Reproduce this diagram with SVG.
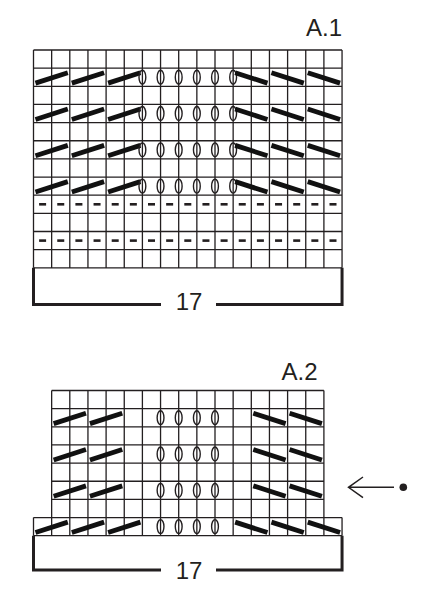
<svg xmlns="http://www.w3.org/2000/svg" xmlns:xlink="http://www.w3.org/1999/xlink" width="429" height="600" viewBox="0 0 429 600">
<style>
.grid{fill:none;stroke:#231f20;stroke-width:1.3}
.brk{fill:none;stroke:#231f20;stroke-width:3;stroke-linejoin:miter}
.bar{stroke:#111;stroke-width:4.8;stroke-linecap:butt}
.ov{fill:none;stroke:#231f20;stroke-width:1.4}
.dash{fill:#231f20}
.lbl{font-family:"Liberation Sans",Arial,sans-serif;font-size:24px;fill:#231f20}
.arr{fill:none;stroke:#231f20;stroke-width:1.5}
</style>
<defs>
<line id="barL" class="bar" x1="2" y1="15" x2="34.3" y2="4.6"/>
<line id="barR" class="bar" x1="2" y1="4.6" x2="34.3" y2="15"/>
<ellipse id="oval" class="ov" cx="0" cy="9.075" rx="3.4" ry="7"/>
<rect id="dash" class="dash" x="5.6" y="7.8" width="7" height="2.6"/>
</defs>
<rect width="429" height="600" fill="#fff"/>

<g id="chartA1">
<text class="lbl" x="306" y="36">A.1</text>
<path class="grid" d="M33.5 50V267.8M51.65 50V267.8M69.8 50V267.8M87.95 50V267.8M106.1 50V267.8M124.25 50V267.8M142.4 50V267.8M160.55 50V267.8M178.7 50V267.8M196.85 50V267.8M215 50V267.8M233.15 50V267.8M251.3 50V267.8M269.45 50V267.8M287.6 50V267.8M305.75 50V267.8M323.9 50V267.8M342.05 50V267.8
M33.5 50H342.05M33.5 68.15H342.05M33.5 86.3H342.05M33.5 104.45H342.05M33.5 122.6H342.05M33.5 140.75H342.05M33.5 158.9H342.05M33.5 177.05H342.05M33.5 195.2H342.05M33.5 213.35H342.05M33.5 231.5H342.05M33.5 249.65H342.05M33.5 267.8H342.05"/>
<g id="a1row2">
<use href="#barL" x="33.5" y="68.15"/><use href="#barL" x="69.8" y="68.15"/><use href="#barL" x="106.1" y="68.15"/>
<use href="#oval" x="142.4" y="68.15"/><use href="#oval" x="160.55" y="68.15"/><use href="#oval" x="178.7" y="68.15"/><use href="#oval" x="196.85" y="68.15"/><use href="#oval" x="215" y="68.15"/><use href="#oval" x="233.15" y="68.15"/>
<use href="#barR" x="233.15" y="68.15"/><use href="#barR" x="269.45" y="68.15"/><use href="#barR" x="305.75" y="68.15"/>
</g>
<use href="#a1row2" y="36.3"/>
<use href="#a1row2" y="72.6"/>
<use href="#a1row2" y="108.9"/>
<g id="a1dash">
<use href="#dash" x="33.5" y="195.2"/><use href="#dash" x="51.65" y="195.2"/><use href="#dash" x="69.8" y="195.2"/><use href="#dash" x="87.95" y="195.2"/><use href="#dash" x="106.1" y="195.2"/><use href="#dash" x="124.25" y="195.2"/><use href="#dash" x="142.4" y="195.2"/><use href="#dash" x="160.55" y="195.2"/><use href="#dash" x="178.7" y="195.2"/><use href="#dash" x="196.85" y="195.2"/><use href="#dash" x="215" y="195.2"/><use href="#dash" x="233.15" y="195.2"/><use href="#dash" x="251.3" y="195.2"/><use href="#dash" x="269.45" y="195.2"/><use href="#dash" x="287.6" y="195.2"/><use href="#dash" x="305.75" y="195.2"/><use href="#dash" x="323.9" y="195.2"/>
</g>
<use href="#a1dash" y="36.3"/>
<path class="brk" d="M33.5 267.8V304.5H161M216 304.5H342.05V267.8"/>
<text class="lbl" x="189" y="310" text-anchor="middle">17</text>
</g>

<g id="chartA2">
<text class="lbl" x="281.5" y="380">A.2</text>
<path class="grid" d="M51.65 390.5V517.55M69.8 390.5V517.55M87.95 390.5V517.55M106.1 390.5V517.55M124.25 390.5V517.55M142.4 390.5V517.55M160.55 390.5V517.55M178.7 390.5V517.55M196.85 390.5V517.55M215 390.5V517.55M233.15 390.5V517.55M251.3 390.5V517.55M269.45 390.5V517.55M287.6 390.5V517.55M305.75 390.5V517.55M323.9 390.5V517.55
M51.65 390.5H323.9M51.65 408.65H323.9M51.65 426.8H323.9M51.65 444.95H323.9M51.65 463.1H323.9M51.65 481.25H323.9M51.65 499.4H323.9
M33.5 517.55H342.05M33.5 535.7H342.05
M33.5 517.55V535.7M51.65 517.55V535.7M69.8 517.55V535.7M87.95 517.55V535.7M106.1 517.55V535.7M124.25 517.55V535.7M142.4 517.55V535.7M160.55 517.55V535.7M178.7 517.55V535.7M196.85 517.55V535.7M215 517.55V535.7M233.15 517.55V535.7M251.3 517.55V535.7M269.45 517.55V535.7M287.6 517.55V535.7M305.75 517.55V535.7M323.9 517.55V535.7M342.05 517.55V535.7"/>
<g id="a2row2">
<use href="#barL" x="51.65" y="408.65"/><use href="#barL" x="87.95" y="408.65"/>
<use href="#oval" x="160.55" y="408.65"/><use href="#oval" x="178.7" y="408.65"/><use href="#oval" x="196.85" y="408.65"/><use href="#oval" x="215" y="408.65"/>
<use href="#barR" x="251.3" y="408.65"/><use href="#barR" x="287.6" y="408.65"/>
</g>
<use href="#a2row2" y="36.3"/>
<use href="#a2row2" y="72.6"/>
<g id="a2wide">
<use href="#barL" x="33.5" y="517.55"/><use href="#barL" x="69.8" y="517.55"/><use href="#barL" x="106.1" y="517.55"/>
<use href="#oval" x="160.55" y="517.55"/><use href="#oval" x="178.7" y="517.55"/><use href="#oval" x="196.85" y="517.55"/><use href="#oval" x="215" y="517.55"/>
<use href="#barR" x="233.15" y="517.55"/><use href="#barR" x="269.45" y="517.55"/><use href="#barR" x="305.75" y="517.55"/>
</g>
<path class="brk" d="M33.5 535.7V570H161M216 570H342.05V535.7"/>
<text class="lbl" x="189" y="579" text-anchor="middle">17</text>
</g>

<g id="connectors">
<path class="arr" d="M363 477L348.5 487.3L363 497.6M348.5 487.3H394"/>
<circle cx="403.3" cy="487.3" r="3.8" fill="#231f20"/>
</g>
</svg>
